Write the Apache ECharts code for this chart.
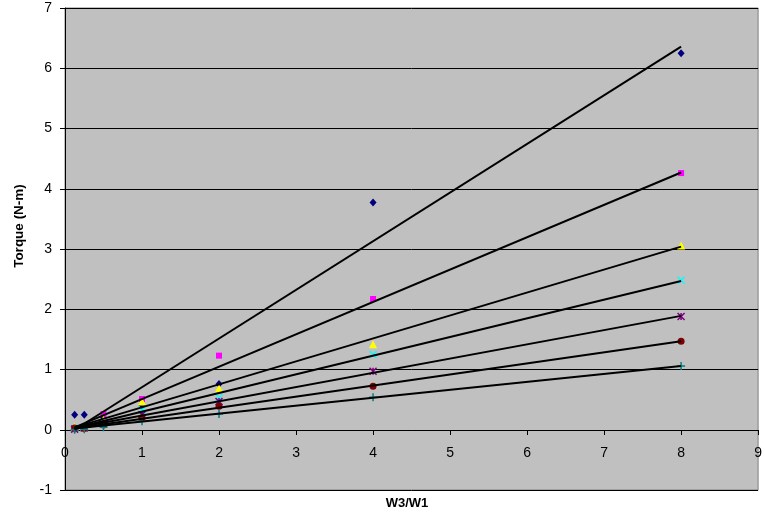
<!DOCTYPE html>
<html>
<head>
<meta charset="utf-8">
<script src="https://cdn.jsdelivr.net/npm/echarts@6/dist/echarts.min.js"></script>
<style>
html,body{margin:0;padding:0;background:#fff;}
#c{width:765px;height:516px;}
</style>
</head>
<body>
<div id="c"></div>
<script>
var xValues = [0.125, 0.25, 0.5, 1, 2, 4, 8];
var s1 = [0.25, 0.25, 0.20, 0.40, 0.76, 3.77, 6.25];
var s2 = [0.02, 0.05, 0.26, 0.51, 1.23, 2.17, 4.26];
var s3 = [0.05, 0.06, 0.17, 0.47, 0.69, 1.42, 3.06];
var s4 = [0.02, 0.04, 0.12, 0.33, 0.53, 1.25, 2.48];
var s5 = [0.01, 0.03, 0.10, 0.25, 0.47, 0.97, 1.88];
var s6 = [0.03, 0.02, 0.08, 0.20, 0.39, 0.72, 1.47];
var s7 = [0.00, 0.01, 0.04, 0.14, 0.26, 0.54, 1.06];
var trendX = [0.125, 8];
var trendStart = [0.00, 0.04, 0.04, 0.03, 0.03, 0.02, 0.02];
var trendEnd = [6.36, 4.27, 3.04, 2.47, 1.89, 1.47, 1.06];
var xTicks = [0,1,2,3,4,5,6,7,8,9];
var yTicks = [-1,0,1,2,3,4,5,6,7];

var seriesVals = [s1, s2, s3, s4, s5, s6, s7];
var colors = ['#000080', '#FF00FF', '#FFFF00', '#00FFFF', '#800080', '#800000', '#008080'];
var symbols = [
  'diamond', 'rect', 'triangle',
  'path://M0,0L10,10M10,0L0,10',
  'path://M0,0L10,10M10,0L0,10M5,0L5,10',
  'circle',
  'path://M5,0L5,10M0,5L10,5'
];
var sizes = [[7,8], 6, 8, 7, 7, 7, 8];
var stroked = [false, false, false, true, true, false, true];

var series = [];
seriesVals.forEach(function(vals, i){
  series.push({
    type: 'scatter',
    data: xValues.map(function(x, j){ return [x, vals[j]]; }),
    symbol: symbols[i],
    symbolSize: sizes[i],
    itemStyle: stroked[i] ? {color: 'rgba(0,0,0,0)', borderColor: colors[i], borderWidth: 1.5, opacity: 1}
                          : {color: colors[i], opacity: 1},
    z: 3,
    silent: true
  });
});
trendEnd.forEach(function(e, i){
  series.push({
    type: 'line',
    data: [[trendX[0], trendStart[i]], [trendX[1], e]],
    symbol: 'none',
    lineStyle: {color: '#000', width: 2},
    z: 4,
    silent: true
  });
});

var gridTop = 8, gridBottom = 26, H = 516;
var unitPx = (H - gridTop - gridBottom) / (yTicks[yTicks.length-1] - yTicks[0]);

var chart = echarts.init(document.getElementById('c'), null, {renderer: 'canvas'});
chart.setOption({
  animation: false,
  backgroundColor: '#fff',
  textStyle: {fontFamily: 'Liberation Sans, Arial, sans-serif'},
  grid: {left: 65, right: 5, top: gridTop, bottom: gridBottom, show: true, backgroundColor: '#C0C0C0', borderColor: '#808080', borderWidth: 1},
  xAxis: {
    type: 'value', min: xTicks[0], max: xTicks[xTicks.length-1], interval: 1,
    position: 'bottom',
    offset: -Math.round((0 - yTicks[0]) * unitPx),
    axisLine: {onZero: false, lineStyle: {color: '#000', width: 1}},
    axisTick: {show: true, inside: false, length: 5, lineStyle: {color: '#000'}},
    axisLabel: {color: '#000', fontSize: 14, margin: 16, fontFamily: 'Liberation Sans, Arial, sans-serif'},
    splitLine: {show: false}
  },
  yAxis: {
    type: 'value', min: yTicks[0], max: yTicks[yTicks.length-1], interval: 1,
    axisLine: {show: true, onZero: false, lineStyle: {color: '#000', width: 1}},
    axisTick: {show: true, length: 5, lineStyle: {color: '#000'}},
    axisLabel: {color: '#000', fontSize: 14, margin: 13, fontFamily: 'Liberation Sans, Arial, sans-serif'},
    splitLine: {show: true, lineStyle: {color: '#000', width: 1}}
  },
  graphic: [
    {type: 'text', x: 407, y: 503, style: {text: 'W3/W1', font: 'bold 13px Liberation Sans, Arial, sans-serif', fill: '#000', textAlign: 'center', textVerticalAlign: 'middle'}},
    {type: 'text', x: 19, y: 226, rotation: Math.PI/2, style: {text: 'Torque (N-m)', font: 'bold 13.5px Liberation Sans, Arial, sans-serif', fill: '#000', textAlign: 'center', textVerticalAlign: 'middle'}}
  ],
  series: series
});
</script>
</body>
</html>
